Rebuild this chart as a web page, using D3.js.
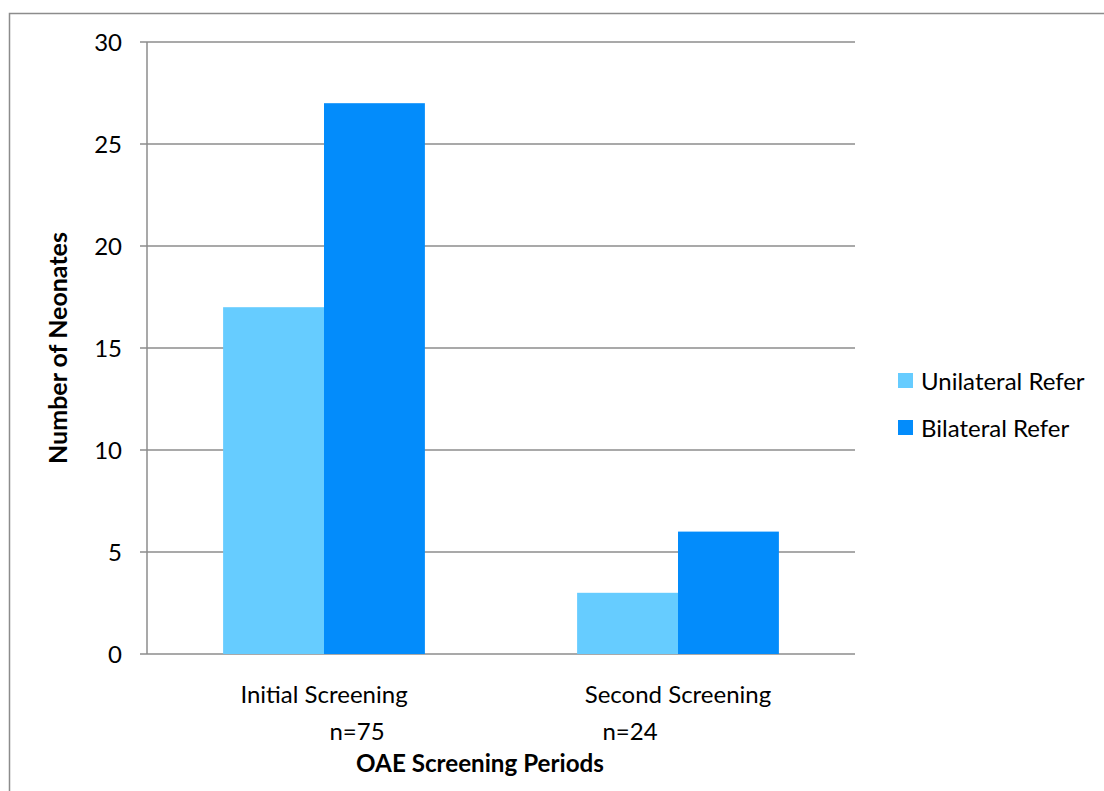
<!DOCTYPE html>
<html><head><meta charset="utf-8">
<script src="https://cdn.jsdelivr.net/npm/d3@7"></script>
<style>body{margin:0;background:#fff}svg{display:block}text{font-family:Lato,"Open Sans",sans-serif;fill:#000}</style>
</head><body><svg id="c" width="1104" height="791"></svg>
<script>
const categories = ["Initial Screening", "Second Screening"];
const sampleSizes = ["n=75", "n=24"];
const seriesNames = ["Unilateral Refer", "Bilateral Refer"];
const unilateral = [17, 3];
const bilateral = [27, 6];
const yTicks = [0, 5, 10, 15, 20, 25, 30];
const colors = ["#66CCFF", "#038CFB"];

const svg = d3.select("#c");
svg.append("rect").attr("x", 9.5).attr("y", 13.5).attr("width", 1200).attr("height", 900)
  .attr("fill", "none").attr("stroke", "#8c8c8c").attr("stroke-width", 1.5);

const L = 147, R = 855, T = 42, B = 654;
const x = d3.scaleBand().domain(categories).range([L, R]).paddingInner(0.43).paddingOuter(0.215);
const y = d3.scaleLinear().domain([0, 30]).range([B, T]);
const xs = d3.scaleBand().domain(seriesNames).range([0, x.bandwidth()]);

svg.append("g").selectAll("line").data(yTicks).join("line")
  .attr("x1", L - 7).attr("x2", R).attr("y1", d => y(d)).attr("y2", d => y(d))
  .attr("stroke", "#8c8c8c").attr("stroke-width", 1.5);
svg.append("line").attr("x1", L).attr("x2", L).attr("y1", T).attr("y2", B)
  .attr("stroke", "#8c8c8c").attr("stroke-width", 1.5);

svg.append("g").selectAll("text").data(yTicks).join("text")
  .attr("x", 122).attr("y", d => y(d)).attr("dy", "0.36em").attr("text-anchor", "end")
  .attr("font-size", 24).text(d => d);

const series = [unilateral, bilateral];
series.forEach((vals, si) => {
  svg.append("g").selectAll("rect").data(categories).join("rect")
    .attr("x", c => x(c) + xs(seriesNames[si]))
    .attr("width", xs.bandwidth())
    .attr("y", (c, i) => y(vals[i]))
    .attr("height", (c, i) => y(0) - y(vals[i]))
    .attr("fill", colors[si]);
});

svg.append("g").selectAll("text").data(categories).join("text")
  .attr("x", c => x(c) + x.bandwidth() / 2).attr("y", 703).attr("text-anchor", "middle")
  .attr("font-size", 24).text(c => c);
const nx = [357, 630];
svg.append("g").selectAll("text").data(sampleSizes).join("text")
  .attr("x", (d, i) => nx[i]).attr("y", 740).attr("text-anchor", "middle")
  .attr("font-size", 24).text(d => d);

svg.append("text").attr("x", 480).attr("y", 772).attr("text-anchor", "middle")
  .attr("font-size", 24.2).attr("font-weight", "bold").text("OAE Screening Periods");
svg.append("text").attr("transform", "translate(67,348) rotate(-90)").attr("text-anchor", "middle")
  .attr("font-size", 25).attr("font-weight", "bold").text("Number of Neonates");

const lg = svg.append("g").selectAll("g").data(seriesNames).join("g")
  .attr("transform", (d, i) => `translate(898,${373 + i * 47})`);
lg.append("rect").attr("width", 15).attr("height", 15).attr("fill", (d, i) => colors[i]);
lg.append("text").attr("x", 23).attr("y", 8).attr("dy", "0.36em").attr("font-size", 24).text(d => d);
</script></body></html>
